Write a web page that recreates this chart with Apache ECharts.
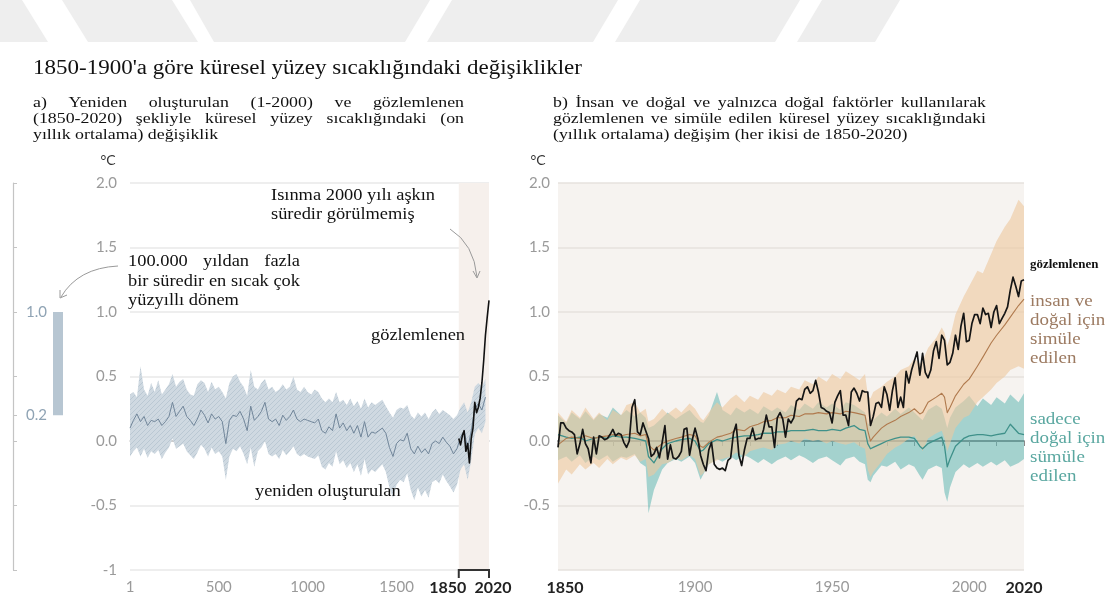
<!DOCTYPE html>
<html>
<head>
<meta charset="utf-8">
<script src="https://cdn.jsdelivr.net/npm/echarts@6/dist/echarts.min.js"></script>
<style>
  html, body { margin: 0; padding: 0; background: #ffffff; }
  #chart { width: 1118px; height: 603px; }
</style>
</head>
<body>
<div id="chart"></div>
<script>
// ---------------- data ----------------
// (a) reconstructed global surface temperature, 20-year steps (°C vs 1850-1900)
const reconYears = [1,20,40,60,80,100,120,140,160,180,200,220,240,260,280,300,320,340,360,380,400,420,440,460,480,500,520,540,560,580,600,620,640,660,680,700,720,740,760,780,800,820,840,860,880,900,920,940,960,980,1000,1020,1040,1060,1080,1100,1120,1140,1160,1180,1200,1220,1240,1260,1280,1300,1320,1340,1360,1380,1400,1420,1440,1460,1480,1500,1520,1540,1560,1580,1600,1620,1640,1660,1680,1700,1720,1740,1760,1780,1800,1820,1840,1860,1880,1900,1920,1940,1960,1980,2000];
const reconMid = [0.10,0.16,0.21,0.15,0.19,0.12,0.16,0.15,0.17,0.12,0.15,0.19,0.30,0.19,0.23,0.27,0.19,0.16,0.12,0.17,0.24,0.20,0.14,0.21,0.17,0.19,0.15,-0.02,0.16,0.20,0.19,0.23,0.17,0.08,0.27,0.16,0.19,0.23,0.30,0.17,0.15,0.17,0.12,0.20,0.16,0.19,0.24,0.17,0.15,0.17,0.16,0.15,0.14,0.17,0.08,0.06,0.11,0.08,0.21,0.10,0.14,0.08,0.12,0.06,0.12,0.03,0.15,0.03,0.07,0.06,0.08,0.10,0.06,-0.05,-0.12,-0.02,0.01,0.00,0.06,-0.06,-0.10,-0.04,-0.09,-0.06,-0.10,-0.02,0.00,-0.02,0.03,-0.01,-0.04,-0.10,-0.06,0.03,0.08,-0.06,0.08,0.25,0.29,0.24,0.34];
const reconHigh = [0.36,0.38,0.34,0.58,0.40,0.35,0.45,0.38,0.47,0.36,0.40,0.44,0.52,0.42,0.46,0.48,0.40,0.36,0.35,0.44,0.47,0.45,0.38,0.46,0.40,0.42,0.38,0.33,0.45,0.50,0.52,0.46,0.42,0.35,0.55,0.42,0.40,0.45,0.48,0.40,0.42,0.38,0.40,0.44,0.40,0.42,0.50,0.40,0.38,0.42,0.38,0.36,0.40,0.38,0.33,0.30,0.33,0.30,0.38,0.30,0.32,0.28,0.33,0.27,0.31,0.25,0.33,0.26,0.30,0.28,0.30,0.32,0.27,0.22,0.18,0.24,0.26,0.25,0.28,0.20,0.17,0.22,0.19,0.22,0.17,0.22,0.25,0.21,0.24,0.22,0.20,0.17,0.20,0.26,0.30,0.22,0.30,0.42,0.45,0.42,0.48];
const reconLow = [-0.12,-0.08,-0.05,-0.12,-0.06,-0.13,-0.08,-0.10,-0.07,-0.14,-0.09,-0.05,0.02,-0.06,-0.04,-0.02,-0.08,-0.11,-0.14,-0.09,-0.03,-0.06,-0.12,-0.05,-0.10,-0.08,-0.12,-0.30,-0.12,-0.06,-0.08,-0.04,-0.10,-0.18,-0.05,-0.20,-0.08,-0.05,0.00,-0.10,-0.12,-0.10,-0.14,-0.07,-0.11,-0.08,-0.04,-0.10,-0.12,-0.10,-0.12,-0.13,-0.14,-0.11,-0.20,-0.22,-0.17,-0.20,-0.08,-0.18,-0.15,-0.21,-0.17,-0.24,-0.18,-0.27,-0.14,-0.26,-0.22,-0.24,-0.21,-0.18,-0.24,-0.36,-0.44,-0.34,-0.30,-0.32,-0.25,-0.38,-0.46,-0.36,-0.43,-0.38,-0.44,-0.32,-0.30,-0.33,-0.26,-0.31,-0.35,-0.40,-0.34,-0.22,-0.18,-0.30,-0.15,0.05,0.10,0.06,0.15];

// (a) observed, decadal
const obsDecadeYears = [1850,1860,1870,1880,1890,1900,1910,1920,1930,1940,1950,1960,1970,1980,1990,2000,2010,2020];
const obsDecade = [0.02,-0.03,0.04,0.08,-0.08,-0.02,-0.17,0.02,0.10,0.30,0.22,0.26,0.33,0.45,0.62,0.82,0.96,1.09];

// (a) multi-century warm period range shown on the side scale
const warmPeriodRange = [0.2, 1.0];

// (b) observed annual values, 1850..2020
const obsStartYear = 1850;
const obsAnnual = [
  -0.05,0.14,0.14,0.10,0.08,0.07,0.05,-0.10,-0.02,0.09,
  -0.02,-0.06,-0.17,0.03,-0.10,0.04,0.03,0.01,0.02,0.05,
  0.09,0.04,0.06,0.05,-0.01,-0.05,0.00,0.26,0.32,0.07,
  0.05,0.14,0.08,0.02,-0.12,-0.10,-0.05,-0.13,-0.01,0.12,
  -0.14,-0.03,-0.13,-0.14,-0.12,-0.08,0.09,0.10,-0.11,0.01,
  0.10,0.02,-0.11,-0.18,-0.23,-0.07,-0.01,-0.18,-0.21,-0.22,
  -0.21,-0.23,-0.15,-0.13,0.06,0.13,-0.11,-0.19,-0.07,0.02,
  0.02,0.10,0.01,0.02,0.02,0.09,0.20,0.11,0.11,-0.05,
  0.18,0.22,0.17,0.03,0.17,0.14,0.18,0.31,0.33,0.32,
  0.40,0.42,0.37,0.39,0.47,0.38,0.26,0.25,0.23,0.22,
  0.14,0.30,0.35,0.39,0.20,0.20,0.12,0.38,0.41,0.37,
  0.31,0.39,0.38,0.38,0.12,0.19,0.29,0.30,0.26,0.42,
  0.36,0.24,0.39,0.49,0.26,0.34,0.26,0.54,0.45,0.55,
  0.62,0.69,0.51,0.68,0.53,0.49,0.55,0.70,0.77,0.64,
  0.82,0.78,0.59,0.61,0.68,0.82,0.71,0.89,0.99,0.77,
  0.78,0.91,0.98,0.98,0.91,1.03,0.98,0.99,0.88,1.00,
  1.05,0.91,0.95,0.99,1.04,1.17,1.27,1.20,1.12,1.24,
  1.25
];

// (b) simulations: years at which the ranges and means are given
const simYears = [1850,1853,1855,1858,1860,1863,1865,1868,1870,1873,1875,1878,1880,1882,1883,1885,1888,1890,1893,1895,1898,1900,1902,1903,1905,1908,1910,1913,1915,1918,1920,1923,1925,1928,1930,1933,1935,1938,1940,1943,1945,1948,1950,1953,1955,1958,1960,1962,1963,1964,1965,1968,1970,1973,1975,1978,1980,1982,1983,1985,1988,1990,1991,1992,1993,1995,1998,2000,2003,2005,2008,2010,2013,2015,2018,2020];
// human + natural
const humanHigh = [0.22,0.15,0.24,0.18,0.26,0.17,0.22,0.16,0.24,0.20,0.28,0.30,0.22,0.25,0.15,0.17,0.25,0.21,0.26,0.22,0.29,0.25,0.18,0.16,0.22,0.30,0.26,0.33,0.36,0.30,0.35,0.32,0.38,0.35,0.40,0.37,0.42,0.40,0.47,0.44,0.50,0.46,0.52,0.48,0.54,0.50,0.47,0.52,0.36,0.33,0.38,0.42,0.46,0.50,0.55,0.58,0.64,0.60,0.62,0.72,0.80,0.88,0.84,0.74,0.80,0.98,1.12,1.20,1.32,1.30,1.45,1.55,1.66,1.72,1.87,1.82];
const humanLow = [-0.33,-0.22,-0.26,-0.18,-0.22,-0.17,-0.21,-0.14,-0.18,-0.13,-0.15,-0.11,-0.16,-0.14,-0.28,-0.26,-0.18,-0.17,-0.13,-0.15,-0.11,-0.14,-0.27,-0.25,-0.18,-0.15,-0.14,-0.12,-0.09,-0.12,-0.08,-0.06,-0.05,-0.07,-0.03,-0.02,0.00,-0.02,0.02,0.00,0.01,-0.02,0.00,-0.02,-0.03,-0.01,-0.04,-0.06,-0.22,-0.28,-0.24,-0.16,-0.10,-0.05,-0.03,0.02,0.04,-0.03,-0.08,0.02,0.06,0.08,0.02,-0.08,-0.02,0.10,0.18,0.20,0.30,0.34,0.40,0.45,0.50,0.55,0.58,0.56];
const humanMean = [-0.03,0.02,0.03,0.02,0.04,0.02,0.03,0.04,0.05,0.04,0.05,0.06,0.04,0.05,-0.03,-0.07,-0.02,0.00,0.02,0.03,0.05,0.04,-0.04,-0.05,-0.01,0.03,0.04,0.06,0.09,0.08,0.11,0.13,0.15,0.16,0.18,0.18,0.20,0.19,0.21,0.21,0.22,0.21,0.22,0.21,0.23,0.22,0.21,0.20,0.08,0.00,0.03,0.10,0.13,0.16,0.19,0.22,0.25,0.21,0.22,0.30,0.34,0.37,0.34,0.22,0.26,0.35,0.44,0.48,0.58,0.65,0.76,0.82,0.90,0.96,1.05,1.10];
// natural only
const naturalHigh = [0.20,0.14,0.22,0.17,0.23,0.16,0.21,0.18,0.26,0.20,0.24,0.19,0.22,0.18,0.10,0.12,0.18,0.22,0.17,0.20,0.24,0.19,0.15,0.14,0.20,0.38,0.24,0.20,0.26,0.22,0.25,0.21,0.27,0.23,0.26,0.22,0.28,0.24,0.29,0.25,0.30,0.26,0.29,0.24,0.30,0.28,0.25,0.22,0.14,0.12,0.16,0.22,0.19,0.25,0.21,0.26,0.22,0.18,0.16,0.24,0.28,0.25,0.18,0.10,0.18,0.26,0.31,0.35,0.27,0.33,0.28,0.34,0.29,0.36,0.30,0.37];
const naturalLow = [-0.15,-0.12,-0.16,-0.11,-0.17,-0.12,-0.15,-0.11,-0.16,-0.12,-0.13,-0.10,-0.17,-0.20,-0.56,-0.38,-0.22,-0.17,-0.14,-0.16,-0.12,-0.17,-0.30,-0.26,-0.18,-0.14,-0.16,-0.12,-0.15,-0.11,-0.13,-0.17,-0.14,-0.18,-0.15,-0.12,-0.15,-0.11,-0.13,-0.17,-0.14,-0.12,-0.15,-0.19,-0.14,-0.12,-0.16,-0.18,-0.30,-0.32,-0.27,-0.19,-0.20,-0.16,-0.22,-0.18,-0.20,-0.27,-0.30,-0.22,-0.19,-0.21,-0.40,-0.47,-0.36,-0.24,-0.18,-0.21,-0.17,-0.20,-0.16,-0.19,-0.15,-0.20,-0.17,-0.14];
const naturalMean = [0.05,0.03,0.02,0.03,0.00,0.02,0.03,0.02,0.04,0.03,0.03,0.02,0.01,0.00,-0.12,-0.17,-0.06,-0.02,0.00,0.01,0.02,0.00,-0.08,-0.07,-0.02,0.01,0.00,0.02,0.03,0.04,0.04,0.05,0.06,0.06,0.07,0.07,0.08,0.08,0.08,0.09,0.08,0.08,0.09,0.08,0.10,0.12,0.09,0.08,-0.02,-0.06,-0.05,-0.02,0.00,0.02,0.03,0.03,0.02,-0.04,-0.06,-0.02,0.01,0.03,-0.04,-0.20,-0.14,-0.04,0.02,0.04,0.05,0.05,0.04,0.05,0.06,0.13,0.06,0.05];

// axis tick labels
const yTicks = [-1, -0.5, 0, 0.5, 1, 1.5, 2];
const aYearLabels = [1, 500, 1000, 1500, 1850, 2020];
const bYearLabels = [1850, 1900, 1950, 2000, 2020];

// ---------------- helpers ----------------
const SERIF = '"Liberation Serif", "DejaVu Serif", serif';
const SANS = 'Lato, "Open Sans", sans-serif';
const WIDE = 1.15;   // horizontal stretch of the serif captions
const measureCtx = document.createElement('canvas').getContext('2d');
function textWidth(s, font, sx) { measureCtx.font = font; return measureCtx.measureText(s).width * (sx || 1); }
function label(s, x, y, font, fill, align, sx) {
  return {
    type: 'text', silent: true, z: 100, x: x, y: y, scaleX: sx || 1, scaleY: 1,
    style: { text: s, x: 0, y: 0, font: font, fill: fill,
             align: align || 'left', verticalAlign: 'middle',
             textAlign: align || 'left', textVerticalAlign: 'middle' }
  };
}
function caption(s, x, y, font, fill) { return label(s, x, y, font, fill, 'left', WIDE); }
// a line of text spread evenly between x0 and x1
function justifiedLine(line, x0, x1, y, font, fill) {
  const words = line.split(/\s+/);
  const widths = words.map(w => textWidth(w, font, WIDE));
  const total = widths.reduce((a, b) => a + b, 0);
  const gap = words.length > 1 ? (x1 - x0 - total) / (words.length - 1) : 0;
  const out = [];
  let x = x0;
  words.forEach((w, i) => { out.push(caption(w, x, y, font, fill)); x += widths[i] + gap; });
  return out;
}
// diagonal hatching used for the reconstruction range
function hatchPattern() {
  const c = document.createElement('canvas');
  c.width = 5; c.height = 5;
  const g = c.getContext('2d');
  g.fillStyle = '#cfd9e1';
  g.fillRect(0, 0, 5, 5);
  g.strokeStyle = '#bac8d3';
  g.lineWidth = 1;
  g.beginPath();
  g.moveTo(-1, 6); g.lineTo(6, -1);
  g.moveTo(-1, 1); g.lineTo(1, -1);
  g.moveTo(4, 6); g.lineTo(6, 4);
  g.stroke();
  return { image: c, repeat: 'repeat' };
}
// filled range between two value arrays, drawn through the axes
function rangeSeries(xi, yi, years, low, high, fill, z) {
  return {
    type: 'custom', xAxisIndex: xi, yAxisIndex: yi, z: z, silent: true,
    data: [[years[0], low[0]]],
    renderItem: function (params, api) {
      const pts = [];
      for (let i = 0; i < years.length; i++) pts.push(api.coord([years[i], high[i]]));
      for (let i = years.length - 1; i >= 0; i--) pts.push(api.coord([years[i], low[i]]));
      return { type: 'polygon', shape: { points: pts }, style: { fill: fill } };
    }
  };
}
function lineSeries(xi, yi, xs, ys, color, width, z) {
  return {
    type: 'line', xAxisIndex: xi, yAxisIndex: yi, z: z, silent: true,
    showSymbol: false, symbol: 'none', animation: false,
    data: xs.map((x, i) => [x, ys[i]]),
    lineStyle: { color: color, width: width, join: 'round' }
  };
}
const fmtVal = v => (v === -1 ? '-1' : v.toFixed(1));
const obsYears = obsAnnual.map((_, i) => obsStartYear + i);

// ---------------- text & decorations ----------------
const g = [];
// header ribbon
const ribbon = [
  [[0,0],[22,0],[48,42],[0,42]],
  [[62,0],[172,0],[198,42],[88,42]],
  [[190,0],[430,0],[405,42],[214,42]],
  [[452,0],[618,0],[593,42],[427,42]],
  [[640,0],[800,0],[775,42],[615,42]],
  [[822,0],[900,0],[875,42],[797,42]]
];
ribbon.forEach(p => g.push({ type: 'polygon', silent: true, z: 0, shape: { points: p }, style: { fill: '#eeeeee' } }));

g.push(caption("1850-1900'a göre küresel yüzey sıcaklığındaki değişiklikler", 33, 69, '20px ' + SERIF, '#111'));

const subFont = '15.5px ' + SERIF;
g.push(...justifiedLine('a) Yeniden oluşturulan (1-2000) ve gözlemlenen', 33, 464, 103, subFont, '#111'));
g.push(...justifiedLine('(1850-2020) şekliyle küresel yüzey sıcaklığındaki (on', 33, 464, 119, subFont, '#111'));
g.push(caption('yıllık ortalama) değişiklik', 33, 135, subFont, '#111'));
g.push(...justifiedLine('b) İnsan ve doğal ve yalnızca doğal faktörler kullanılarak', 553, 986, 103, subFont, '#111'));
g.push(...justifiedLine('gözlemlenen ve simüle edilen küresel yüzey sıcaklığındaki', 553, 986, 119, subFont, '#111'));
g.push(caption('(yıllık ortalama) değişim (her ikisi de 1850-2020)', 553, 135, subFont, '#111'));

g.push(label('°C', 108, 160, '14px ' + SANS, '#333', 'center'));
g.push(label('°C', 538, 160, '14px ' + SANS, '#333', 'center'));

const noteFont = '16px ' + SERIF;
g.push(caption('Isınma 2000 yılı aşkın', 271, 196, noteFont, '#111'));
g.push(caption('süredir görülmemiş', 271, 215, noteFont, '#111'));
g.push(...justifiedLine('100.000 yıldan fazla', 128, 300, 262, noteFont, '#111'));
g.push(...justifiedLine('bir süredir en sıcak çok', 128, 300, 282, noteFont, '#111'));
g.push(caption('yüzyıllı dönem', 128, 301, noteFont, '#111'));
g.push(caption('gözlemlenen', 371, 336, noteFont, '#111'));
g.push(caption('yeniden oluşturulan', 255, 492, noteFont, '#111'));

// arrows
g.push({ type: 'bezierCurve', silent: true, z: 90,
  shape: { x1: 450, y1: 229, cpx1: 474, cpy1: 244, x2: 477, y2: 277 },
  style: { stroke: '#9a9a9a', lineWidth: 1, fill: null } });
g.push({ type: 'polyline', silent: true, z: 90,
  shape: { points: [[473, 271], [477, 278], [480, 271]] },
  style: { stroke: '#9a9a9a', lineWidth: 1, fill: null } });
g.push({ type: 'bezierCurve', silent: true, z: 90,
  shape: { x1: 118, y1: 266, cpx1: 78, cpy1: 268, x2: 61, y2: 297 },
  style: { stroke: '#9a9a9a', lineWidth: 1, fill: null } });
g.push({ type: 'polyline', silent: true, z: 90,
  shape: { points: [[60, 290], [60, 298], [67, 295]] },
  style: { stroke: '#9a9a9a', lineWidth: 1, fill: null } });

// panel (b) series names
g.push(label('gözlemlenen', 1030, 265, 'bold 12px ' + SERIF, '#111', 'left', 1.08));
const nameFont = '16.5px ' + SERIF;
['insan ve', 'doğal için', 'simüle', 'edilen'].forEach((s, i) => g.push(caption(s, 1030, 302 + i * 19, nameFont, '#9c7a61')));
['sadece', 'doğal için', 'sümüle', 'edilen'].forEach((s, i) => g.push(caption(s, 1030, 420 + i * 19, nameFont, '#5aa7a0')));

// ---------------- chart ----------------
const chart = echarts.init(document.getElementById('chart'), null, { renderer: 'canvas' });

const gridTop = 183, gridH = 387;
const option = {
  animation: false,
  backgroundColor: '#ffffff',
  grid: [
    { left: 130, top: gridTop, width: 359, height: gridH },
    { left: 558, top: gridTop, width: 466, height: gridH, show: true, backgroundColor: '#f6f3f0', borderWidth: 0 },
    { left: 13, top: gridTop, width: 90, height: gridH }
  ],
  xAxis: [
    { gridIndex: 0, type: 'value', min: 1, max: 2020,
      axisLine: { lineStyle: { color: '#c2c2c2', width: 1.5 } },
      axisTick: { show: true, customValues: [1], length: 6, lineStyle: { color: '#c2c2c2' } },
      splitLine: { show: false },
      axisLabel: {
        customValues: aYearLabels, margin: 10,
        formatter: v => (v === 1850 ? '{b1|1850}' : v === 2020 ? '{b2|2020}' : '{n|' + v + '}'),
        rich: {
          n: { fontFamily: SANS, fontSize: 15, color: '#9a9a9a' },
          b1: { fontFamily: SANS, fontSize: 16, fontWeight: 'bold', color: '#222', padding: [0, 22, 0, 0] },
          b2: { fontFamily: SANS, fontSize: 16, fontWeight: 'bold', color: '#222', padding: [0, 0, 0, 8] }
        }
      } },
    { gridIndex: 1, type: 'value', min: 1850, max: 2020, interval: 10,
      axisLine: { lineStyle: { color: '#555', width: 1.5 } },
      axisTick: { show: true, length: 5, lineStyle: { color: '#8a8a8a' } },
      splitLine: { show: false },
      axisLabel: {
        customValues: bYearLabels, margin: 10,
        formatter: v => (v === 1850 ? '{b1|1850}' : v === 2020 ? '{b2|2020}' : '{n|' + v + '}'),
        rich: {
          n: { fontFamily: SANS, fontSize: 15, color: '#9a9a9a' },
          b1: { fontFamily: SANS, fontSize: 16, fontWeight: 'bold', color: '#222', padding: [0, 0, 0, 14] },
          b2: { fontFamily: SANS, fontSize: 16, fontWeight: 'bold', color: '#222' }
        }
      } },
    { gridIndex: 2, type: 'category', data: ['r'], show: false }
  ],
  yAxis: [
    { gridIndex: 0, type: 'value', min: -1, max: 2, interval: 0.5,
      axisLine: { show: false }, axisTick: { show: false },
      splitLine: { lineStyle: { color: '#e8e8e8', width: 1.5 } },
      axisLabel: { margin: 13, formatter: fmtVal, fontFamily: SANS, fontSize: 15, color: '#9a9a9a' } },
    { gridIndex: 1, type: 'value', min: -1, max: 2, interval: 0.5,
      axisLine: { show: false }, axisTick: { show: false },
      splitLine: { lineStyle: { color: '#e6e2de', width: 1.5 } },
      axisLabel: { margin: 8, formatter: v => (v === -1 ? '' : fmtVal(v)), fontFamily: SANS, fontSize: 15, color: '#9a9a9a' } },
    { gridIndex: 2, type: 'value', min: -1, max: 2, position: 'left',
      axisLine: { show: true, lineStyle: { color: '#c4c4c4', width: 1.2 } },
      axisTick: { show: true, inside: true, length: 4, customValues: yTicks.concat([warmPeriodRange[0]]), lineStyle: { color: '#c4c4c4' } },
      splitLine: { show: false },
      axisLabel: { inside: true, margin: 13, customValues: warmPeriodRange, formatter: v => v.toFixed(1),
                   fontFamily: SANS, fontSize: 15, color: '#8fa3b4' } }
  ],
  series: [
    // (a) shaded observational period
    { type: 'custom', xAxisIndex: 0, yAxisIndex: 0, z: 1, silent: true, data: [[1850, -1]],
      renderItem: function (params, api) {
        const p0 = api.coord([1850, 2]), p1 = api.coord([2020, -1]);
        return { type: 'rect', shape: { x: p0[0], y: p0[1], width: p1[0] - p0[0], height: p1[1] - p0[1] },
                 style: { fill: '#f6f0ec' } };
      } },
    rangeSeries(0, 0, reconYears, reconLow, reconHigh, hatchPattern(), 2),
    lineSeries(0, 0, reconYears, reconMid, '#71869a', 1, 3),
    lineSeries(0, 0, obsDecadeYears, obsDecade, '#111', 1.6, 4),
    // (a) bracket under 1850-2020
    { type: 'custom', xAxisIndex: 0, yAxisIndex: 0, z: 5, silent: true, data: [[1850, -1]],
      renderItem: function (params, api) {
        const a = api.coord([1850, -1]), b = api.coord([2020, -1]);
        return { type: 'polyline', shape: { points: [[a[0], a[1] + 8], [a[0], a[1]], [b[0], b[1]], [b[0], b[1] + 8]] },
                 style: { stroke: '#333', lineWidth: 2, fill: null } };
      } },
    // (b) ranges and means
    rangeSeries(1, 1, simYears, naturalLow, naturalHigh, 'rgba(96,182,178,0.55)', 2),
    rangeSeries(1, 1, simYears, humanLow, humanHigh, 'rgba(238,200,160,0.62)', 3),
    lineSeries(1, 1, simYears, naturalMean, '#3f918a', 1.3, 4),
    lineSeries(1, 1, simYears, humanMean, '#b07a4e', 1.1, 5),
    lineSeries(1, 1, obsYears, obsAnnual, '#151515', 1.7, 6),
    // side scale range bar
    { type: 'custom', xAxisIndex: 2, yAxisIndex: 2, z: 3, silent: true, data: [[0, warmPeriodRange[1]]],
      renderItem: function (params, api) {
        const top = api.coord([0, warmPeriodRange[1]]), bot = api.coord([0, warmPeriodRange[0]]);
        return { type: 'rect', shape: { x: top[0] - 5, y: top[1], width: 10, height: bot[1] - top[1] },
                 style: { fill: '#b7c6d2' } };
      } }
  ],
  graphic: { elements: g }
};
chart.setOption(option);
</script>
</body>
</html>
